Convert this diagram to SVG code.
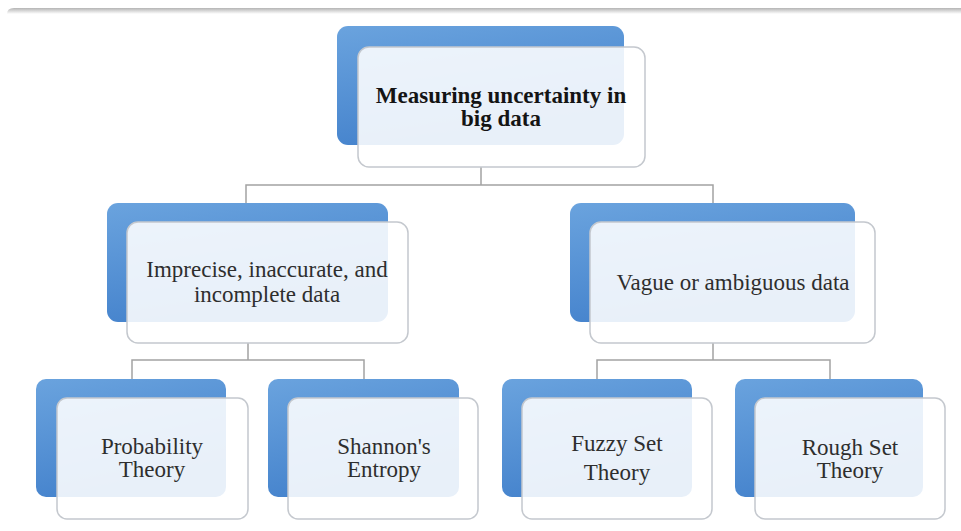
<svg xmlns="http://www.w3.org/2000/svg" width="961" height="531" viewBox="0 0 961 531">
  <defs>
    <linearGradient id="blue" x1="0" y1="0" x2="0.35" y2="1">
      <stop offset="0" stop-color="#6aa3de"/>
      <stop offset="1" stop-color="#4482cc"/>
    </linearGradient>
    <linearGradient id="frame" x1="0" y1="0" x2="0" y2="1">
      <stop offset="0" stop-color="#b4b4b4"/>
      <stop offset="1" stop-color="#ffffff"/>
    </linearGradient>
    <style>
      .back { fill: url(#blue); }
      .front { fill: #ffffff; fill-opacity: 0.88; stroke: #c4c8ce; stroke-width: 1.5; }
      .conn { fill: none; stroke: #a3a3a3; stroke-width: 1.5; }
      .t { font-family: "Liberation Serif", "Times New Roman", serif; font-size: 23px; fill: #2e2e2e; text-anchor: middle; }
      .tb { font-weight: bold; fill: #141414; }
    </style>
  </defs>
  <rect width="961" height="531" fill="#ffffff"/>
  <path d="M7,14 Q7,8 14,8 L961,8 L961,14 Z" fill="url(#frame)"/>

  <g id="connectors">
    <path class="conn" d="M481,167 V185 M246,205 V185 H713 V205"/>
    <path class="conn" d="M248,343 V360 M132,380 V360 H364 V380"/>
    <path class="conn" d="M713,343 V360 M597,380 V360 H830 V380"/>
  </g>

  <g id="node-root">
    <rect class="back" x="337" y="26" width="287" height="119" rx="11"/>
    <rect class="front" x="358" y="47" width="287" height="120" rx="11"/>
    <text class="t tb" x="501" y="103">Measuring uncertainty in</text>
    <text class="t tb" x="501" y="126">big data</text>
  </g>

  <g id="node-imprecise">
    <rect class="back" x="107" y="203" width="281" height="119" rx="11"/>
    <rect class="front" x="127" y="222" width="281" height="121" rx="11"/>
    <text class="t" x="267" y="277">Imprecise, inaccurate, and</text>
    <text class="t" x="267" y="302">incomplete data</text>
  </g>

  <g id="node-vague">
    <rect class="back" x="570" y="203" width="285" height="119" rx="11"/>
    <rect class="front" x="590" y="222" width="285" height="121" rx="11"/>
    <text class="t" x="733" y="290">Vague or ambiguous data</text>
  </g>

  <g id="node-probability">
    <rect class="back" x="36" y="379" width="190" height="118" rx="10"/>
    <rect class="front" x="57" y="398" width="191" height="121" rx="10"/>
    <text class="t" x="152" y="454">Probability</text>
    <text class="t" x="152" y="477">Theory</text>
  </g>

  <g id="node-shannon">
    <rect class="back" x="268" y="379" width="191" height="118" rx="10"/>
    <rect class="front" x="288" y="398" width="190" height="121" rx="10"/>
    <text class="t" x="384" y="454">Shannon's</text>
    <text class="t" x="384" y="477">Entropy</text>
  </g>

  <g id="node-fuzzy">
    <rect class="back" x="502" y="379" width="190" height="118" rx="10"/>
    <rect class="front" x="522" y="398" width="190" height="121" rx="10"/>
    <text class="t" x="617" y="451">Fuzzy Set</text>
    <text class="t" x="617" y="480">Theory</text>
  </g>

  <g id="node-rough">
    <rect class="back" x="735" y="379" width="188" height="118" rx="10"/>
    <rect class="front" x="755" y="398" width="190" height="121" rx="10"/>
    <text class="t" x="850" y="455">Rough Set</text>
    <text class="t" x="850" y="478">Theory</text>
  </g>
</svg>
